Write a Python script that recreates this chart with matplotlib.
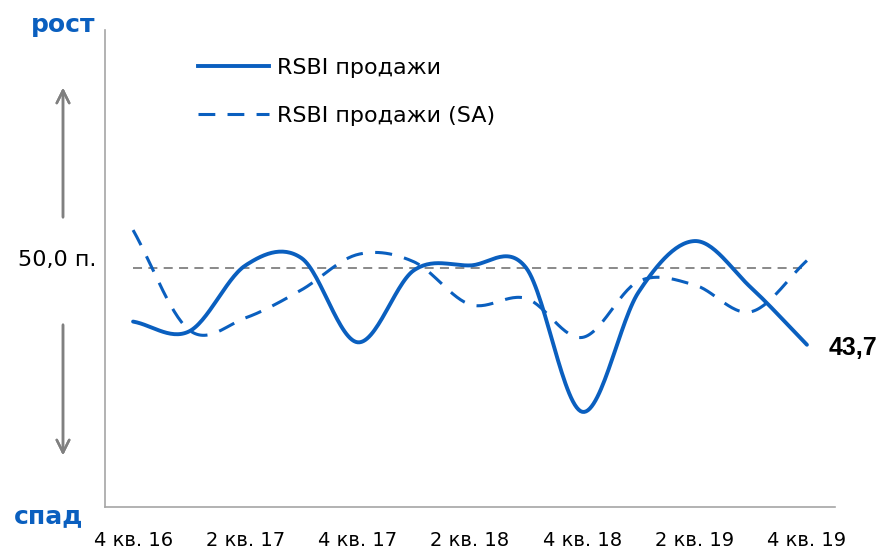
import numpy as np
import matplotlib
matplotlib.use('Agg')
from matplotlib import pyplot as plt
from matplotlib.lines import Line2D

quarters = ['4 кв. 16', '1 кв. 17', '2 кв. 17', '3 кв. 17', '4 кв. 17', '1 кв. 18', '2 кв. 18',
            '3 кв. 18', '4 кв. 18', '1 кв. 19', '2 кв. 19', '3 кв. 19', '4 кв. 19']
rsbi_sales = [45.6, 44.8, 50.2, 50.8, 43.9, 49.8, 50.2, 50.0, 38.2, 48.0, 52.2, 48.4, 43.7]
rsbi_sales_sa = [53.1, 44.9, 45.9, 48.2, 51.1, 50.5, 47.0, 47.5, 44.3, 48.9, 48.6, 46.4, 50.6]
neutral = 50.0

blue = '#0a5fbf'
gray = '#808080'


def smooth(y, n=30):
    # catmull-rom like excel smoothed lines
    y = np.asarray(y, dtype=float)
    p = np.concatenate([[2 * y[0] - y[1]], y, [2 * y[-1] - y[-2]]])
    xs, ys = [], []
    t = np.linspace(0, 1, n, endpoint=False)
    for i in range(1, len(p) - 2):
        p0, p1, p2, p3 = p[i - 1], p[i], p[i + 1], p[i + 2]
        v = 0.5 * ((2 * p1) + (-p0 + p2) * t + (2 * p0 - 5 * p1 + 4 * p2 - p3) * t ** 2
                   + (-p0 + 3 * p1 - 3 * p2 + p3) * t ** 3)
        xs.append(i - 1 + t)
        ys.append(v)
    xs.append([len(y) - 1])
    ys.append([y[-1]])
    return np.concatenate(xs), np.concatenate(ys)


plt.rcParams['font.family'] = ['DejaVu Sans']
fig = plt.figure(figsize=(8.8, 5.5), dpi=100)
ax = fig.add_axes([105 / 880, 43 / 550, 730 / 880, 477 / 550])
ax.set_xlim(-0.5, 12.5)
ax.set_ylim(30.4, 69.5)

ax.axhline(neutral, xmin=0.5 / 13, xmax=12.5 / 13, color=gray, lw=1.3, ls=(0, (5, 3.5)))

x1, y1 = smooth(rsbi_sales)
x2, y2 = smooth(rsbi_sales_sa)
ax.plot(x1, y1, color=blue, lw=2.8, solid_capstyle='round')

# stretch the dash pattern a bit so both ends of the SA line get a dash
lw_sa = 2.2
dash, gap = 5.5, 4.0
pts = ax.transData.transform(np.column_stack([x2, y2]))
length_pt = np.hypot(*np.diff(pts, axis=0).T).sum() * 72 / fig.dpi / lw_sa
k = round((length_pt - dash) / (dash + gap))
s = length_pt / (k * (dash + gap) + dash)
ax.plot(x2, y2, color=blue, lw=lw_sa, ls=(0, (dash * s, gap * s)))

ax.text(12 + 0.38, rsbi_sales[-1] - 0.3, '43,7', fontsize=18, fontweight='bold',
        family=['Liberation Sans'], va='center', ha='left', clip_on=False)

for sp in ['top', 'right']:
    ax.spines[sp].set_visible(False)
for sp in ['left', 'bottom']:
    ax.spines[sp].set_color('#a6a6a6')
    ax.spines[sp].set_linewidth(1.2)
ax.set_yticks([])
ax.set_xticks(range(0, 13, 2))
ax.set_xticklabels(quarters[::2], fontsize=14)
ax.tick_params(axis='x', length=0, pad=17)

fig.text(63 / 880, 1 - 25 / 550, 'рост', color=blue, fontsize=18, fontweight='bold', ha='center', va='center')
fig.text(49 / 880, 1 - 516 / 550, 'спад', color=blue, fontsize=18, fontweight='bold', ha='center', va='center')
fig.text(57 / 880, 1 - 260 / 550, '50,0 п.', fontsize=16, ha='center', va='center')

arrow = dict(arrowstyle='->,head_length=0.9,head_width=0.45', color=gray, lw=1.8)
fig.add_artist(plt.annotate('', xy=(63 / 880, 1 - 85 / 550), xytext=(63 / 880, 1 - 220 / 550),
                            xycoords='figure fraction', arrowprops=arrow))
fig.add_artist(plt.annotate('', xy=(63 / 880, 1 - 458 / 550), xytext=(63 / 880, 1 - 322 / 550),
                            xycoords='figure fraction', arrowprops=arrow))

handles = [Line2D([], [], color=blue, lw=2.8), Line2D([], [], color=blue, lw=lw_sa, ls=(0, (dash, gap)))]
fig.legend(handles, ['RSBI продажи', 'RSBI продажи (SA)'], loc='upper left',
           bbox_to_anchor=(198 / 880, 1 - 58 / 550), frameon=False, fontsize=16,
           handlelength=3.2, labelspacing=1.25, handletextpad=0.35, borderpad=0, borderaxespad=0)

fig.savefig('out.png', dpi=100)
